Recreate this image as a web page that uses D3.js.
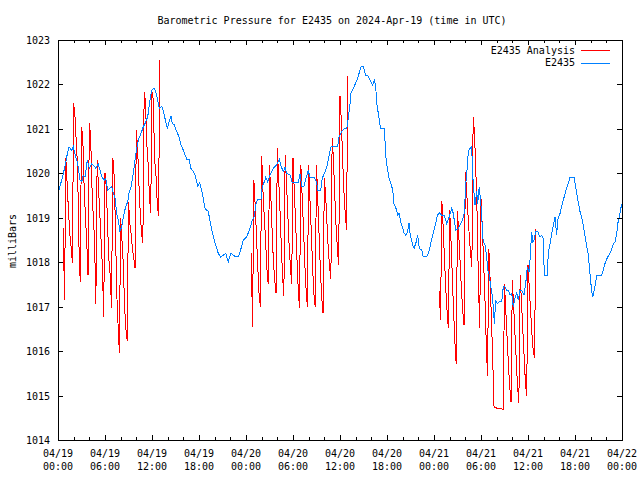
<!DOCTYPE html>
<html><head><meta charset="utf-8">
<script src="https://cdn.jsdelivr.net/npm/d3@7"></script>
<style>
body{margin:0;background:#fff}
svg{display:block}
text{font-family:"DejaVu Sans Mono","Liberation Mono",monospace;font-size:10px;fill:#000}
</style>
</head><body>
<svg id="chart" width="640" height="480"></svg>
<script>
// ---- data ----
const chartTitle = "Barometric Pressure for E2435 on 2024-Apr-19 (time in UTC)";
const yAxisLabel = "milliBars";
const seriesNames = ["E2435 Analysis", "E2435"];
const yTickValues = [1014,1015,1016,1017,1018,1019,1020,1021,1022,1023];
const xLabelHours = [0,6,12,18,24,30,36,42,48,54,60,66,72];

// observed station pressure: hours since 2024-04-19 00:00 UTC, and mb
const obsHours = [0.13,0.47,0.89,1.11,1.40,1.75,1.95,2.26,2.51,2.81,3.03,3.23,3.45,3.74,4.00,4.30,4.63,4.81,5.14,5.36,5.58,5.91,6.09,6.34,6.64,6.86,7.06,7.28,7.49,7.70,7.91,8.13,8.34,8.64,8.90,9.06,9.32,9.61,9.83,10.12,10.34,10.60,10.89,11.11,11.45,11.74,11.96,12.26,12.47,12.73,12.93,13.24,13.44,13.75,13.95,14.17,14.43,14.59,14.85,15.15,15.45,15.70,16.00,16.43,16.72,16.98,17.27,17.49,17.71,17.83,18.09,18.42,18.77,19.19,19.49,19.83,20.13,20.46,20.77,21.10,21.41,21.74,22.05,22.38,22.69,23.02,23.32,23.66,24.09,24.51,24.80,25.06,25.28,25.49,25.91,26.08,26.34,26.52,26.77,27.06,27.36,27.61,27.92,28.25,28.47,28.76,28.98,29.20,29.62,29.91,30.47,30.68,30.89,31.11,31.40,31.66,31.95,32.17,32.72,33.03,33.15,33.54,33.74,34.09,34.38,34.63,34.85,35.14,35.71,35.87,36.22,36.55,36.86,37.06,37.28,37.40,37.70,38.00,38.26,38.43,38.68,38.97,39.28,39.61,39.92,40.17,40.38,40.56,40.69,40.89,41.11,41.23,41.62,41.74,41.83,42.04,42.26,42.51,42.73,42.89,43.15,43.37,43.53,43.75,43.95,44.17,44.39,44.64,44.81,44.97,45.23,45.45,45.70,45.92,46.12,46.43,46.63,47.07,47.36,47.62,47.78,48.00,48.22,48.42,48.68,48.98,49.28,49.62,49.95,50.26,50.46,50.77,51.03,51.32,51.61,51.87,52.05,52.21,52.38,52.60,52.81,52.94,53.11,53.23,53.45,53.58,53.78,54.09,54.17,54.29,54.51,54.73,54.86,55.06,55.24,55.37,55.57,55.70,55.88,56.08,56.30,56.64,56.85,57.06,57.28,57.49,57.70,57.92,58.12,58.34,58.56,58.76,58.98,59.19,59.49,59.71,59.91,60.13,60.26,60.47,60.60,60.77,60.98,61.24,61.53,61.75,61.95,62.08,62.46,62.59,62.81,63.03,63.32,63.45,63.66,63.79,64.09,64.30,64.51,64.81,65.07,65.36,65.87,66.09,66.29,66.64,66.93,67.15,67.40,67.70,67.91,68.13,68.26,68.46,68.68,68.77,69.41,69.61,69.83,70.17,70.47,70.68,70.89,71.11,71.32,71.53,71.66,71.84,72.00];
const obsPressure = [1019.62,1019.85,1020.15,1020.37,1020.59,1020.52,1020.60,1020.37,1020.23,1019.85,1019.81,1019.96,1019.92,1020.30,1020.12,1020.21,1020.16,1020.12,1020.21,1020.07,1019.92,1019.85,1019.89,1019.62,1019.67,1019.70,1019.55,1019.44,1019.10,1018.95,1018.69,1018.80,1019.02,1019.25,1019.36,1019.55,1019.70,1020.00,1020.30,1020.64,1020.79,1020.90,1021.05,1021.12,1021.27,1021.65,1021.87,1021.91,1021.84,1021.65,1021.46,1021.50,1021.42,1021.16,1021.01,1021.16,1021.29,1021.12,1021.09,1020.94,1020.82,1020.64,1020.52,1020.32,1020.32,1020.11,1020.04,1019.96,1019.81,1019.71,1019.79,1019.55,1019.21,1019.14,1018.84,1018.57,1018.39,1018.20,1018.11,1018.16,1018.20,1018.01,1018.20,1018.16,1018.12,1018.12,1018.28,1018.50,1018.57,1018.76,1018.95,1019.02,1019.32,1019.41,1019.41,1019.70,1019.81,1019.91,1019.81,1019.96,1020.07,1020.14,1020.19,1020.32,1020.16,1020.04,1020.14,1020.00,1019.96,1019.79,1019.79,1019.79,1019.98,1019.71,1019.71,1019.89,1020.06,1019.91,1019.91,1019.79,1019.62,1019.62,1019.89,1020.04,1020.19,1020.41,1020.60,1020.61,1020.61,1020.81,1020.94,1021.01,1021.01,1021.24,1021.57,1021.80,1021.91,1022.03,1022.14,1022.25,1022.40,1022.40,1022.21,1022.19,1022.06,1021.99,1022.10,1021.95,1021.57,1021.35,1021.09,1021.01,1021.01,1020.75,1020.41,1020.11,1019.89,1019.77,1019.62,1019.32,1019.21,1019.06,1019.10,1018.91,1018.80,1018.66,1018.61,1018.69,1018.89,1018.61,1018.42,1018.31,1018.44,1018.61,1018.31,1018.28,1018.12,1018.12,1018.24,1018.46,1018.57,1018.72,1018.87,1019.06,1019.11,1019.06,1019.06,1018.87,1019.02,1019.21,1019.10,1018.72,1018.74,1018.84,1018.93,1019.10,1019.77,1020.07,1020.49,1020.56,1020.61,1019.96,1019.55,1019.29,1019.59,1019.32,1019.70,1019.10,1018.72,1018.46,1018.39,1018.12,1017.82,1017.71,1017.45,1017.34,1017.00,1016.62,1017.15,1017.07,1017.11,1017.11,1017.45,1017.45,1017.37,1017.37,1017.26,1017.30,1017.00,1017.19,1017.30,1017.16,1017.37,1017.37,1017.26,1017.52,1017.90,1017.79,1018.05,1018.69,1018.46,1018.50,1018.69,1018.69,1018.57,1018.61,1018.54,1017.71,1017.71,1018.20,1018.42,1018.65,1018.91,1019.02,1018.61,1018.95,1019.10,1019.25,1019.40,1019.59,1019.74,1019.91,1019.91,1019.70,1019.47,1019.14,1018.95,1018.72,1018.46,1018.16,1017.75,1017.34,1017.21,1017.37,1017.60,1017.71,1017.71,1017.82,1017.97,1018.12,1018.20,1018.28,1018.42,1018.46,1018.65,1018.95,1019.02,1019.21,1019.30];

// analysis runs: start hour of each run, and its values at 10-minute steps
const anaStepHours = 1/6;
const anaRunStart = [0.67,1,2,3,4,5,6,7,8,9,10,11,12,13,
  24.67,25,26,27,28,29,30,31,32,33,34,35,36,37,
  48.67,49,50,51,52,53,54,55,56,57,58,59,60,61];
const anaRunValues = [
  [1018.76,1017.16],
  [1020.34,1019.77,1019.17,1018.65,1018.35,1017.99],
  [1021.58,1021.29,1020.71,1020.15,1018.43,1017.56],
  [1021.05,1020.79,1019.70,1019.03,1018.46,1017.71],
  [1021.13,1020.84,1019.70,1019.03,1018.50,1017.07],
  [1020.30,1019.70,1019.10,1018.50,1017.90,1016.76],
  [1020.00,1019.70,1018.80,1018.05,1017.70,1016.98],
  [1020.35,1019.95,1018.80,1017.30,1016.60,1015.96],
  [1019.00,1018.50,1017.98,1017.00,1016.50,1016.23],
  [1019.36,1018.88,1018.65,1018.30,1018.10,1017.86],
  [1020.98,1020.55,1019.75,1019.10,1018.65,1018.44],
  [1021.82,1021.61,1020.68,1020.22,1019.50,1019.10],
  [1021.84,1021.65,1020.30,1020.00,1019.33,1019.03],
  [1022.56],
  [1018.20,1016.55],
  [1019.85,1019.30,1018.60,1017.90,1017.30,1017.00],
  [1020.39,1019.60,1019.00,1018.50,1017.85,1017.50],
  [1020.19,1019.50,1018.70,1018.00,1017.60,1017.30],
  [1020.56,1019.90,1019.20,1018.40,1017.70,1017.25],
  [1020.41,1019.80,1019.10,1018.40,1017.90,1017.50],
  [1020.35,1019.60,1018.90,1018.10,1017.40,1016.97],
  [1020.19,1019.50,1018.80,1018.00,1017.40,1017.00],
  [1020.19,1019.40,1018.70,1017.90,1017.30,1017.00],
  [1020.19,1019.40,1018.60,1017.80,1017.20,1016.85],
  [1019.90,1019.50,1018.90,1018.30,1017.90,1017.62],
  [1020.79,1020.30,1019.50,1018.80,1018.30,1017.93],
  [1021.74,1021.20,1020.30,1019.60,1019.10,1018.73],
  [1022.19],
  [1017.36,1016.69],
  [1019.38,1018.80,1018.10,1017.40,1016.90,1016.51],
  [1019.17,1018.50,1017.70,1016.90,1016.20,1015.70],
  [1019.15,1018.60,1018.00,1017.40,1016.90,1016.58],
  [1020.04,1019.60,1019.10,1018.60,1018.20,1017.90],
  [1021.27,1020.90,1020.10,1019.10,1017.60,1016.53],
  [1019.44,1018.80,1018.00,1017.20,1016.20,1015.44],
  [1018.30,1017.60,1016.70,1015.80,1014.74,1014.74],
  [1014.72,1014.72,1014.71,1014.70,1014.70,1014.69],
  [1017.51,1016.90,1016.30,1015.70,1015.20,1014.86],
  [1017.60,1017.00,1016.40,1015.80,1015.20,1014.84],
  [1017.71,1017.10,1016.50,1015.90,1015.30,1014.98],
  [1017.94,1017.40,1016.90,1016.40,1016.00,1015.84],
  [1018.74]
];

const colorAnalysis = "#ff0000";
const colorObs = "#0080ff";

// ---- chart ----
const t0 = Date.UTC(2024,3,19);
const toDate = h => new Date(t0 + h*3600e3);

const svg = d3.select("#chart");
const L=58, R=622, T=40, B=440;

const x = d3.scaleUtc().domain([toDate(0), toDate(72)]).range([L, R]);
const y = d3.scaleLinear().domain([1014, 1023]).range([B, T]);

// data points
const obs = obsHours.map((h,i)=>({t:toDate(h), v:obsPressure[i]}));
const ana = [];
anaRunStart.forEach((s,r)=>{
  const vals = anaRunValues[r];
  vals.forEach((v,i)=>ana.push({t:toDate(s+i*anaStepHours), v}));
  const endH = s + (vals.length-1)*anaStepHours;
  if (r < anaRunStart.length-1 && anaRunStart[r+1]-endH > 2) ana.push(null);
});

const line = d3.line().defined(d=>d).x(d=>x(d.t)).y(d=>y(d.v));

svg.append("path").datum(ana).attr("d", line)
  .attr("fill","none").attr("stroke",colorAnalysis).attr("stroke-width",1)
  .attr("shape-rendering","crispEdges");
svg.append("path").datum(obs).attr("d", line)
  .attr("fill","none").attr("stroke",colorObs).attr("stroke-width",1)
  .attr("shape-rendering","crispEdges");

// ticks (inward, mirrored)
const minorX = d3.utcHour.every(2).range(toDate(0), toDate(72.01));
const majorX = xLabelHours.map(toDate);
function axisG(axis, tr){
  const g = svg.append("g").attr("transform", tr).call(axis);
  g.select(".domain").remove();
  g.selectAll("line").attr("stroke","#000").attr("shape-rendering","crispEdges");
  g.selectAll("text").remove();
  return g;
}
axisG(d3.axisBottom(x).tickValues(minorX).tickSize(-3).tickFormat(""), `translate(0,${B})`);
axisG(d3.axisTop(x).tickValues(minorX).tickSize(-3).tickFormat(""), `translate(0,${T})`);
axisG(d3.axisBottom(x).tickValues(majorX).tickSize(-5).tickFormat(""), `translate(0,${B})`);
axisG(d3.axisTop(x).tickValues(majorX).tickSize(-5).tickFormat(""), `translate(0,${T})`);
axisG(d3.axisLeft(y).tickValues(yTickValues).tickSize(-5).tickFormat(""), `translate(${L},0)`);
axisG(d3.axisRight(y).tickValues(yTickValues).tickSize(-5).tickFormat(""), `translate(${R},0)`);

// frame
svg.append("rect").attr("x",L+0.5).attr("y",T+0.5).attr("width",R-L).attr("height",B-T)
  .attr("fill","none").attr("stroke","#000").attr("shape-rendering","crispEdges");

// y tick labels
svg.append("g").selectAll("text").data(yTickValues).join("text")
  .attr("x", L-8).attr("y", d=>y(d)+4).attr("text-anchor","end").text(d=>d);

// x tick labels
const fmtD = d3.utcFormat("%m/%d"), fmtT = d3.utcFormat("%H:%M");
const xl = svg.append("g").selectAll("text").data(majorX).join("text")
  .attr("text-anchor","middle");
xl.append("tspan").attr("x", d=>x(d)).attr("y", 457).text(fmtD);
xl.append("tspan").attr("x", d=>x(d)).attr("y", 470).text(fmtT);

// title
svg.append("text").attr("x", 332).attr("y", 24).attr("text-anchor","middle").text(chartTitle);

// y label
svg.append("text").attr("transform","translate(15.5,241) rotate(-90)")
  .attr("text-anchor","middle").text(yAxisLabel);

// legend
const legendColors = [colorAnalysis, colorObs];
const lg = svg.append("g");
seriesNames.forEach((n,i)=>{
  const yy = 50 + i*12.5;
  lg.append("text").attr("x", 575).attr("y", yy+3.5).attr("text-anchor","end").text(n);
  lg.append("line").attr("x1",581).attr("x2",610).attr("y1",yy+0.5).attr("y2",yy+0.5)
    .attr("stroke",legendColors[i]).attr("stroke-width",1).attr("shape-rendering","crispEdges");
});
</script>
</body></html>
